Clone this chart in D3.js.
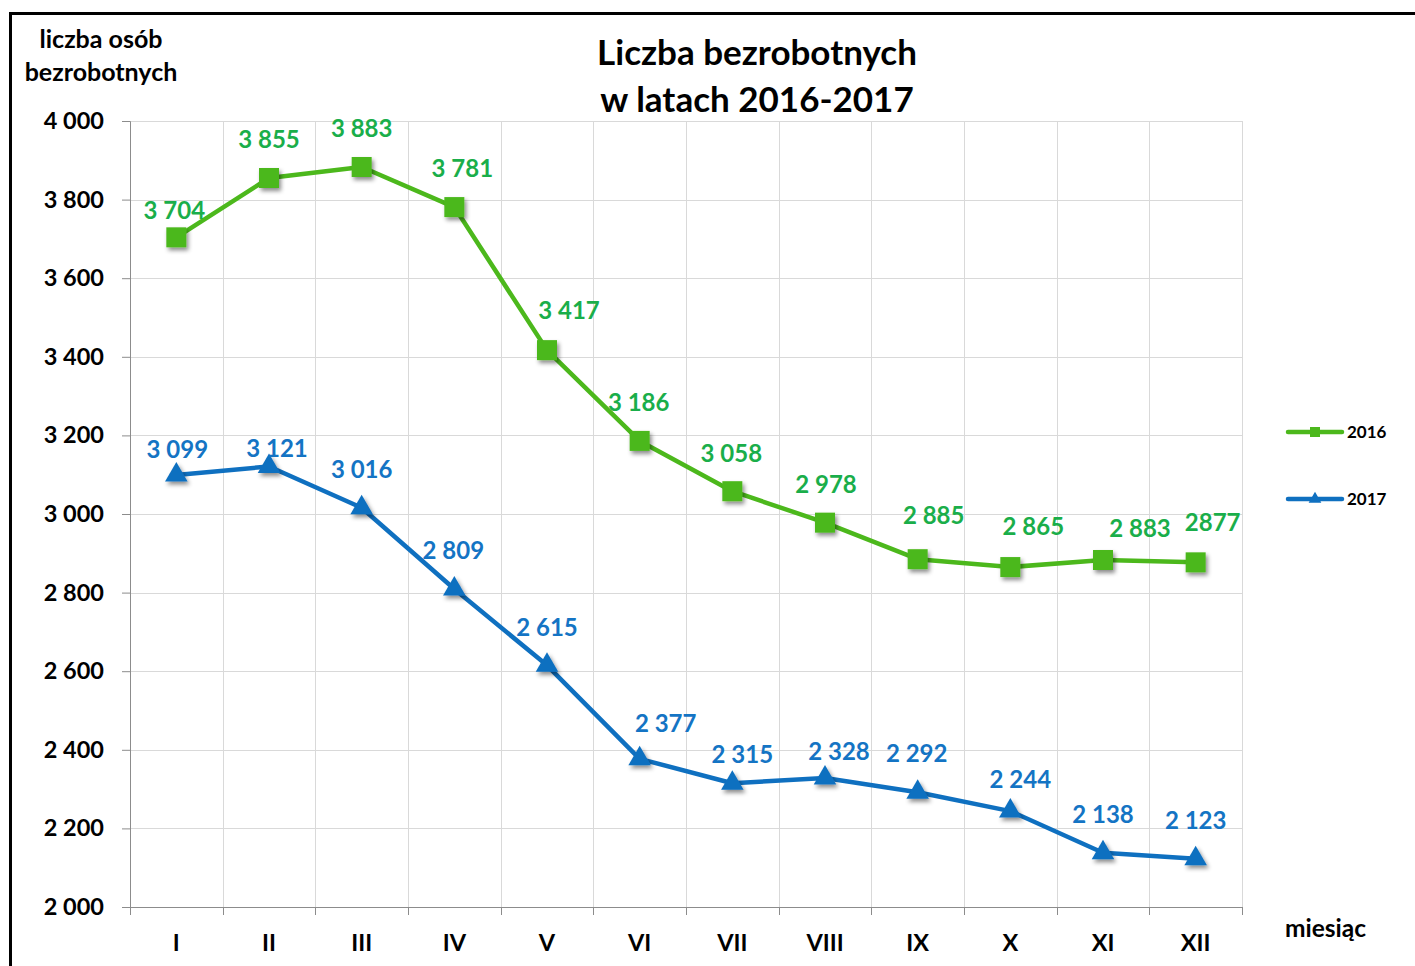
<!DOCTYPE html>
<html>
<head>
<meta charset="utf-8">
<script src="https://cdn.jsdelivr.net/npm/d3@7"></script>
<style>
  body { margin: 0; background: #fff; }
  svg text { font-family: Lato, "Open Sans", sans-serif; font-weight: bold; }
</style>
</head>
<body>
<div id="chart"></div>
<script>
// Data
const months = ['I', 'II', 'III', 'IV', 'V', 'VI', 'VII', 'VIII', 'IX', 'X', 'XI', 'XII'];
const values2016 = [3704, 3855, 3883, 3781, 3417, 3186, 3058, 2978, 2885, 2865, 2883, 2877];
const values2017 = [3099, 3121, 3016, 2809, 2615, 2377, 2315, 2328, 2292, 2244, 2138, 2123];
const labels2016 = ['3 704', '3 855', '3 883', '3 781', '3 417', '3 186', '3 058', '2 978', '2 885', '2 865', '2 883', '2877'];
const labels2017 = ['3 099', '3 121', '3 016', '2 809', '2 615', '2 377', '2 315', '2 328', '2 292', '2 244', '2 138', '2 123'];
const yTicks = [2000, 2200, 2400, 2600, 2800, 3000, 3200, 3400, 3600, 3800, 4000];

// label nudges (dx, dy from the point), the way they were dragged in the original
const nudge2016 = [[-2, -27], [0, -38], [0, -38], [8, -38], [22, -40], [-1, -38], [-1, -38], [1, -38], [16, -44], [23, -40], [37, -31], [17, -40]];
const nudge2017 = [[1, -25], [8, -18], [0, -38], [-1, -38], [0, -38], [26, -35], [10, -29], [14, -26], [-1, -39], [10, -32], [0, -38], [0, -38]];

const width = 1415, height = 966;
const margin = {top: 121, right: 173, bottom: 59, left: 130};
const innerWidth = width - margin.left - margin.right,
      innerHeight = height - margin.top - margin.bottom;

const green = '#4cb81c', greenText = '#1aae4a';
const blue = '#0f70c0', blueText = '#1474c4';
const fmt = d => d3.format(',')(d).replace(',', ' ');

const svg = d3.select('#chart').append('svg')
  .attr('width', width)
  .attr('height', height);

// drop shadow for the markers
const defs = svg.append('defs');
defs.append('filter')
    .attr('id', 'shadow')
    .attr('x', '-50%').attr('y', '-50%')
    .attr('width', '200%').attr('height', '200%')
  .append('feDropShadow')
    .attr('dx', 2).attr('dy', 3)
    .attr('stdDeviation', 2)
    .attr('flood-color', '#000')
    .attr('flood-opacity', 0.45);

// outer frame
svg.append('rect')
  .attr('x', 10.5).attr('y', 13.5)
  .attr('width', 1420).attr('height', 980)
  .attr('fill', 'none')
  .attr('stroke', '#000')
  .attr('stroke-width', 3);

const g = svg.append('g')
  .attr('transform', `translate(${margin.left},${margin.top})`);

const x = d3.scaleBand()
  .domain(months)
  .range([0, innerWidth]);

const y = d3.scaleLinear()
  .domain([2000, 4000])
  .range([innerHeight, 0]);

// grid
g.append('g')
  .selectAll('line')
  .data(yTicks)
  .join('line')
    .attr('x1', 0).attr('x2', innerWidth)
    .attr('y1', d => Math.round(y(d)) + 0.5)
    .attr('y2', d => Math.round(y(d)) + 0.5)
    .attr('stroke', '#d9d9d9');

g.append('g')
  .selectAll('line')
  .data(months)
  .join('line')
    .attr('x1', d => Math.round(x(d) + x.bandwidth()) + 0.5)
    .attr('x2', d => Math.round(x(d) + x.bandwidth()) + 0.5)
    .attr('y1', 0).attr('y2', innerHeight)
    .attr('stroke', '#d9d9d9');

// Y axis
const yAxis = g.append('g')
  .call(d3.axisLeft(y).tickValues(yTicks).tickSize(8).tickPadding(18).tickFormat(fmt));
yAxis.select('.domain').attr('stroke', '#8c8c8c');
yAxis.selectAll('.tick line').attr('stroke', '#8c8c8c');
yAxis.selectAll('.tick text')
  .attr('fill', '#000')
  .style('font-size', '23.5px');

// X axis: ticks at band edges, labels in the band centres
const xAxis = g.append('g')
  .attr('transform', `translate(0,${innerHeight})`);
xAxis.append('line')
  .attr('x1', 0).attr('x2', innerWidth)
  .attr('y1', 0.5).attr('y2', 0.5)
  .attr('stroke', '#8c8c8c');
xAxis.selectAll('.edge')
  .data([0].concat(months.map(d => x(d) + x.bandwidth())))
  .join('line')
    .attr('class', 'edge')
    .attr('x1', d => Math.round(d) + 0.5).attr('x2', d => Math.round(d) + 0.5)
    .attr('y1', 0).attr('y2', 8)
    .attr('stroke', '#8c8c8c');
xAxis.selectAll('.month')
  .data(months)
  .join('text')
    .attr('class', 'month')
    .attr('x', d => x(d) + x.bandwidth() / 2)
    .attr('y', 44)
    .attr('text-anchor', 'middle')
    .style('font-size', '23.5px')
    .text(d => d);

// series
function drawSeries(values, labels, nudges, color, textColor, symbol, size) {
  const line = d3.line()
    .x((d, i) => x(months[i]) + x.bandwidth() / 2)
    .y(d => y(d));

  g.append('path')
    .datum(values)
    .attr('d', line)
    .attr('fill', 'none')
    .attr('stroke', color)
    .attr('stroke-width', 4.5)
    .attr('stroke-linejoin', 'round');

  g.append('g')
    .selectAll('path')
    .data(values)
    .join('path')
      .attr('transform', (d, i) => `translate(${x(months[i]) + x.bandwidth() / 2},${y(d)})`)
      .attr('d', d3.symbol().type(symbol).size(size))
      .attr('fill', color)
      .attr('filter', 'url(#shadow)');

  g.append('g')
    .selectAll('text')
    .data(values)
    .join('text')
      .attr('x', (d, i) => x(months[i]) + x.bandwidth() / 2 + nudges[i][0])
      .attr('y', (d, i) => y(d) + nudges[i][1])
      .attr('dy', '0.35em')
      .attr('text-anchor', 'middle')
      .attr('fill', textColor)
      .style('font-size', '24px')
      .text((d, i) => labels[i]);
}

drawSeries(values2016, labels2016, nudge2016, green, greenText, d3.symbolSquare, 400);
drawSeries(values2017, labels2017, nudge2017, blue, blueText, d3.symbolTriangle, 220);

// titles
svg.append('text')
  .attr('x', 757).attr('y', 65)
  .attr('text-anchor', 'middle')
  .style('font-size', '35px')
  .text('Liczba bezrobotnych');
svg.append('text')
  .attr('x', 757).attr('y', 112)
  .attr('text-anchor', 'middle')
  .style('font-size', '35px')
  .text('w latach 2016-2017');

svg.append('text')
  .attr('x', 101).attr('y', 48)
  .attr('text-anchor', 'middle')
  .style('font-size', '25px')
  .text('liczba osób');
svg.append('text')
  .attr('x', 101).attr('y', 81)
  .attr('text-anchor', 'middle')
  .style('font-size', '25px')
  .text('bezrobotnych');

svg.append('text')
  .attr('x', 1285).attr('y', 937)
  .style('font-size', '24.5px')
  .text('miesiąc');

// legend
const legend = svg.append('g').attr('transform', 'translate(1288,432)');
[['2016', green, d3.symbolSquare, 100], ['2017', blue, d3.symbolTriangle, 70]].forEach((d, i) => {
  const row = legend.append('g').attr('transform', `translate(0,${i * 67})`);
  row.append('line')
    .attr('x1', 0).attr('x2', 54)
    .attr('stroke', d[1])
    .attr('stroke-width', 4.5)
    .attr('stroke-linecap', 'round');
  row.append('path')
    .attr('transform', 'translate(27,0)')
    .attr('d', d3.symbol().type(d[2]).size(d[3]))
    .attr('fill', d[1]);
  row.append('text')
    .attr('x', 59).attr('dy', '0.35em')
    .style('font-size', '17px')
    .text(d[0]);
});
</script>
</body>
</html>
